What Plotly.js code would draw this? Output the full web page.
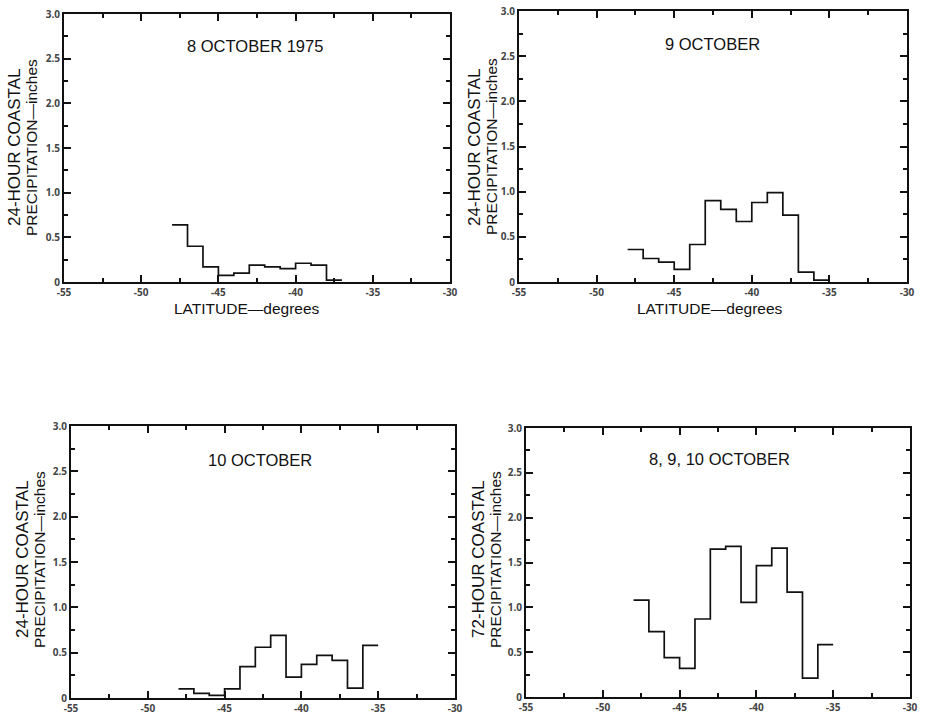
<!DOCTYPE html>
<html>
<head>
<meta charset="utf-8">
<script src="https://cdn.plot.ly/plotly-3.0.1.min.js"></script>
<style>html,body{margin:0;padding:0;background:#fff;}#chart{width:926px;height:715px;}</style>
</head>
<body>
<div id="chart"></div>
<script>
// Bin edges (latitude, degrees) and step heights (inches)
const edges8 = [-48, -47, -46, -45, -44, -43, -42, -41, -40, -39, -38, -37];
const oct8 = [0.64, 0.40, 0.17, 0.075, 0.10, 0.19, 0.17, 0.15, 0.21, 0.19, 0.02];

const edges9 = [-48, -47, -46, -45, -44, -43, -42, -41, -40, -39, -38, -37, -36, -35];
const oct9 = [0.36, 0.26, 0.22, 0.14, 0.415, 0.90, 0.805, 0.67, 0.88, 0.99, 0.74, 0.11, 0.02];

const edges10 = [-48, -47, -46, -45, -44, -43, -42, -41, -40, -39, -38, -37, -36, -35];
const oct10 = [0.10, 0.05, 0.03, 0.10, 0.345, 0.56, 0.69, 0.23, 0.37, 0.47, 0.415, 0.11, 0.58];

const edgesAll = [-48, -47, -46, -45, -44, -43, -42, -41, -40, -39, -38, -37, -36, -35];
const oct8910 = [1.08, 0.73, 0.44, 0.32, 0.87, 1.65, 1.68, 1.055, 1.465, 1.66, 1.17, 0.21, 0.585];

const xTickVals = [-55, -50, -45, -40, -35, -30];
const xTickText = ["-55", "-50", "-45", "-40", "-35", "-30"];
const yTickVals = [0, 0.5, 1.0, 1.5, 2.0, 2.5, 3.0];
const yTickText = ["0", "0.5", "1.0", "1.5", "2.0", "2.5", "3.0"];

const panelTitles = ["8 OCTOBER 1975", "9 OCTOBER", "10 OCTOBER", "8, 9, 10 OCTOBER"];
const yTitleTop = ["24-HOUR COASTAL", "24-HOUR COASTAL", "24-HOUR COASTAL", "72-HOUR COASTAL"];
const yTitleBottom = "PRECIPITATION\u2014inches";
const xTitle = "LATITUDE\u2014degrees";

const W = 926, H = 715;
// plot boxes in pixels [x0, x1, y0(top), y1(bottom)]
const boxes = [
  [64, 450, 14, 282],
  [519, 907, 11, 282],
  [71, 455, 426, 698],
  [526, 910, 428, 697]
];
const FAM = 'Liberation Sans, Arial, sans-serif';

function stepTrace(edges, vals, i) {
  const y = vals.concat([vals[vals.length - 1]]);
  return {
    x: edges, y: y, type: 'scatter', mode: 'lines',
    line: {shape: 'hv', color: '#111', width: 1.7},
    xaxis: i === 0 ? 'x' : 'x' + (i + 1),
    yaxis: i === 0 ? 'y' : 'y' + (i + 1),
    showlegend: false
  };
}

const data = [
  stepTrace(edges8, oct8, 0),
  stepTrace(edges9, oct9, 1),
  stepTrace(edges10, oct10, 2),
  stepTrace(edgesAll, oct8910, 3)
];

function xAxis(b, anchor) {
  return {
    domain: [b[0] / W, b[1] / W], anchor: anchor, range: [-55, -30],
    tickmode: 'array', tickvals: xTickVals, ticktext: xTickText,
    ticks: 'inside', ticklen: 8, tickwidth: 2, tickcolor: '#111',
    showline: true, linecolor: '#111', linewidth: 2, mirror: 'ticks',
    showgrid: false, zeroline: false,
    minor: {ticks: 'inside', dtick: 2.5, tick0: -55, ticklen: 5, tickcolor: '#111'},
    tickfont: {size: 10, weight: 700}
  };
}
function yAxis(b, anchor) {
  return {
    domain: [1 - b[3] / H, 1 - b[2] / H], anchor: anchor, range: [0, 3],
    tickmode: 'array', tickvals: yTickVals, ticktext: yTickText,
    ticks: 'inside', ticklen: 8, tickwidth: 2, tickcolor: '#111',
    showline: true, linecolor: '#111', linewidth: 2, mirror: 'ticks',
    showgrid: false, zeroline: false,
    minor: {ticks: 'inside', dtick: 0.25, tick0: 0, ticklen: 5, tickcolor: '#111'},
    tickfont: {size: 10, weight: 700}
  };
}

const layout = {
  width: W, height: H,
  margin: {l: 0, r: 0, t: 0, b: 0},
  xaxis: xAxis(boxes[0], 'y'), yaxis: yAxis(boxes[0], 'x'),
  xaxis2: xAxis(boxes[1], 'y2'), yaxis2: yAxis(boxes[1], 'x2'),
  xaxis3: xAxis(boxes[2], 'y3'), yaxis3: yAxis(boxes[2], 'x3'),
  xaxis4: xAxis(boxes[3], 'y4'), yaxis4: yAxis(boxes[3], 'x4')
};

const titlePos = [[255, 46], [712, 44], [260, 460], [719, 459]];
const yTitlePos = [[14, 31, 148], [475, 492, 147], [22, 39, 560], [478, 495, 560]];
const xTitlePos = [[247, 308], [710, 308]];

const anns = [];
for (let i = 0; i < 4; i++) {
  anns.push({
    text: panelTitles[i], xref: 'paper', yref: 'paper',
    x: titlePos[i][0] / W, y: 1 - titlePos[i][1] / H,
    xanchor: 'center', yanchor: 'middle', showarrow: false,
    font: {family: FAM, size: 16.5, color: '#111'}
  });
  anns.push({
    text: yTitleTop[i], xref: 'paper', yref: 'paper', textangle: -90,
    x: yTitlePos[i][0] / W, y: 1 - yTitlePos[i][2] / H,
    xanchor: 'center', yanchor: 'middle', showarrow: false,
    font: {family: FAM, size: 17, color: '#111'}
  });
  anns.push({
    text: yTitleBottom, xref: 'paper', yref: 'paper', textangle: -90,
    x: yTitlePos[i][1] / W, y: 1 - yTitlePos[i][2] / H,
    xanchor: 'center', yanchor: 'middle', showarrow: false,
    font: {family: FAM, size: 15.5, color: '#111'}
  });
}
for (let i = 0; i < 2; i++) {
  anns.push({
    text: xTitle, xref: 'paper', yref: 'paper',
    x: xTitlePos[i][0] / W, y: 1 - xTitlePos[i][1] / H,
    xanchor: 'center', yanchor: 'middle', showarrow: false,
    font: {family: FAM, size: 15.5, color: '#111'}
  });
}

const gd = document.getElementById('chart');
Plotly.newPlot(gd, data, layout, {displayModeBar: false, staticPlot: true})
  .then(function () { return Plotly.relayout(gd, {annotations: anns}); })
  .then(function () {
    const upd = {};
    ['xaxis', 'yaxis', 'xaxis2', 'yaxis2', 'xaxis3', 'yaxis3', 'xaxis4', 'yaxis4'].forEach(function (a) {
      upd[a + '.ticklen'] = 7;
      upd[a + '.minor.ticklen'] = 4;
    });
    return Plotly.relayout(gd, upd);
  });
</script>
</body>
</html>
